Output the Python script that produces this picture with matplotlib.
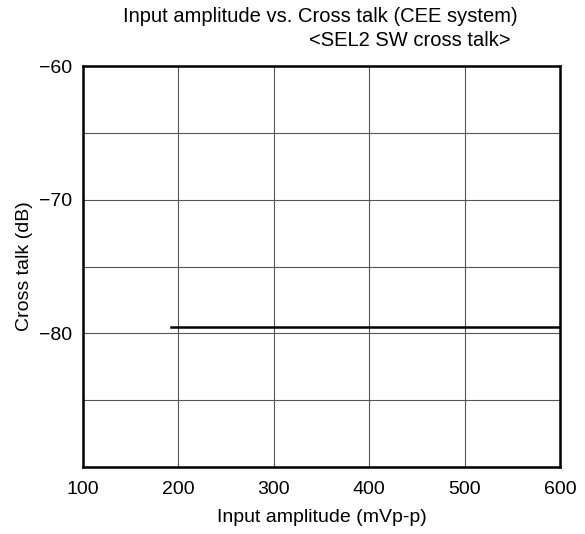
import matplotlib
matplotlib.use("Agg")
import matplotlib.pyplot as plt
import numpy as np

plt.rcParams['font.family'] = ['Liberation Sans', 'DejaVu Sans']

# measured curve: flat cross talk level
amplitude = [192, 600]
crosstalk = [-79.5, -79.5]

x_ticks = [100, 200, 300, 400, 500, 600]
y_grid = [-90, -85, -80, -75, -70, -65, -60]
y_labels = {-60: "\u221260", -70: "\u221270", -80: "\u221280"}

fig = plt.figure(figsize=(5.85, 5.34), dpi=100)
ax = fig.add_axes([83/585, 1 - 467/534, (560-83)/585, (467-66)/534])

ax.plot(amplitude, crosstalk, color="black", lw=1.8)

ax.set_xlim(100, 600)
ax.set_ylim(-90, -60)
ax.set_xticks(x_ticks)
ax.set_yticks(y_grid)
ax.set_yticklabels([y_labels.get(v, "") for v in y_grid])
ax.grid(True, color="#555555", lw=0.8)
ax.tick_params(length=0, labelsize=14, colors="black")
ax.tick_params(axis="x", pad=10)
ax.tick_params(axis="y", pad=8)
for s in ax.spines.values():
    s.set_linewidth(1.8)

ax.set_xlabel("Input amplitude (mVp-p)", fontsize=14, labelpad=8)
ax.set_ylabel("Cross talk (dB)", fontsize=14, labelpad=4)

fig.text(320/585, 1 - 17/534, "Input amplitude vs. Cross talk (CEE system)",
         ha="center", va="center", fontsize=14.5)
fig.text(410/585, 1 - 41/534, "<SEL2 SW cross talk>",
         ha="center", va="center", fontsize=14.5)

plt.savefig("out.png", dpi=100)
